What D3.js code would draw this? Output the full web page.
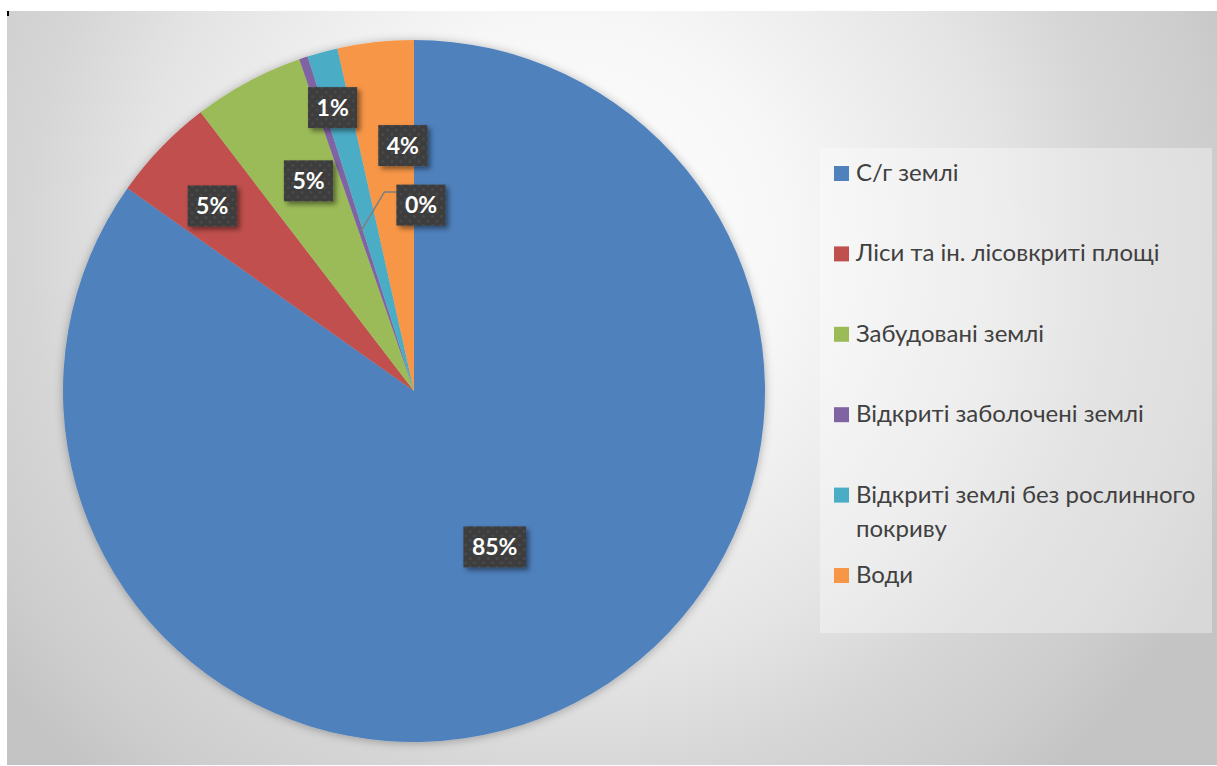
<!DOCTYPE html>
<html>
<head>
<meta charset="utf-8">
<script src="https://cdn.jsdelivr.net/npm/d3@7"></script>
<style>
  html, body { margin: 0; padding: 0; background: #ffffff; }
  svg { display: block; }
</style>
</head>
<body>
<svg id="chart" width="1217" height="766"></svg>
<script>
// Land-use structure (share of total area, %)
const categories = [
  "С/г землі",
  "Ліси та ін. лісовкриті площі",
  "Забудовані землі",
  "Відкриті заболочені землі",
  "Відкриті землі без рослинного покриву",
  "Води"
];
const shares = [84.8, 4.8, 5.1, 0.4, 1.4, 3.5];
const colors = ["#4f81bd", "#c0504d", "#9bbb59", "#8064a2", "#4bacc6", "#f79646"];
// legend lines (long names wrap onto a second line)
const legendLines = [
  ["С/г землі"],
  ["Ліси та ін. лісовкриті площі"],
  ["Забудовані землі"],
  ["Відкриті заболочені землі"],
  ["Відкриті землі без рослинного", "покриву"],
  ["Води"]
];
// data-label placement: distance from the centre (fraction of radius)
// and angular nudge away from the slice's mid-angle (degrees)
const labelRadius = [0.50, 0.78, 0.67, 0.53, 0.84, 0.70];
const labelNudge = [0, -1.4, 1.6, 0, -0.9, 3.7];
// the tiny slice gets a callout label with a leader line
const calloutIndex = 3;
const calloutAngle = 2.15;

const svg = d3.select("#chart");
const defs = svg.append("defs");

// chart-area background: soft radial gradient
const bg = defs.append("radialGradient")
  .attr("id", "bgGrad")
  .attr("gradientUnits", "userSpaceOnUse")
  .attr("cx", 570).attr("cy", 240).attr("r", 720);
[[0, "#ffffff"], [0.3, "#f7f7f7"], [0.6, "#e4e4e4"], [0.75, "#d6d6d6"], [0.9, "#cdcdcd"], [1, "#c4c4c4"]]
  .forEach(([o, c]) => bg.append("stop").attr("offset", o).attr("stop-color", c));

// soft shadow around the pie
const pieShadow = defs.append("filter").attr("id", "pieShadow")
  .attr("x", "-10%").attr("y", "-10%").attr("width", "120%").attr("height", "120%");
pieShadow.append("feDropShadow")
  .attr("dx", 0).attr("dy", 1).attr("stdDeviation", 5)
  .attr("flood-color", "#000").attr("flood-opacity", 0.3);

// shadow for data-label boxes
const boxShadow = defs.append("filter").attr("id", "boxShadow")
  .attr("x", "-30%").attr("y", "-30%").attr("width", "170%").attr("height", "170%");
boxShadow.append("feDropShadow")
  .attr("dx", 3).attr("dy", 3).attr("stdDeviation", 2.5)
  .attr("flood-color", "#000").attr("flood-opacity", 0.45);

// dotted texture of the label boxes
const dots = defs.append("pattern").attr("id", "dots")
  .attr("patternUnits", "userSpaceOnUse").attr("width", 9).attr("height", 9);
dots.append("rect").attr("width", 9).attr("height", 9).attr("fill", "#3d3d3d");
dots.append("circle").attr("cx", 2.5).attr("cy", 2.5).attr("r", 1.5).attr("fill", "#4a4a4a");
dots.append("circle").attr("cx", 7).attr("cy", 7).attr("r", 1.5).attr("fill", "#4a4a4a");

// chart area
svg.append("rect")
  .attr("x", 7).attr("y", 11).attr("width", 1210).attr("height", 754)
  .attr("fill", "url(#bgGrad)");
svg.append("rect")
  .attr("x", 7).attr("y", 11).attr("width", 2).attr("height", 5)
  .attr("fill", "#000");

// pie geometry
const cx = 414, cy = 391, R = 351;
const total = d3.sum(shares);
const data = categories.map((name, i) => ({ name, value: shares[i], color: colors[i], i }));

const pie = d3.pie().value(d => d.value).sort(null).startAngle(0).endAngle(2 * Math.PI);
const arcs = pie(data);
const arc = d3.arc().innerRadius(0).outerRadius(R);

const gPie = svg.append("g").attr("transform", `translate(${cx},${cy})`);
gPie.append("g").attr("filter", "url(#pieShadow)")
  .selectAll("path")
  .data(arcs)
  .join("path")
  .attr("d", arc)
  .attr("fill", d => d.data.color);

// data labels
const pct = d => Math.round(d.data.value / total * 100) + "%";
const polar = (angle, r) => [Math.sin(angle) * r, -Math.cos(angle) * r];
const rad = deg => deg * Math.PI / 180;

const labelFont = "bold 23px Lato, 'Open Sans', sans-serif";
const gLabels = gPie.append("g");

arcs.forEach(d => {
  const i = d.data.i;
  const mid = (d.startAngle + d.endAngle) / 2;
  const angle = i === calloutIndex ? rad(calloutAngle) : mid + rad(labelNudge[i]);
  const [lx, ly] = polar(angle, R * labelRadius[i]);
  const g = gLabels.append("g").attr("transform", `translate(${lx},${ly})`);
  const t = g.append("text")
    .attr("text-anchor", "middle")
    .attr("y", 8)
    .style("font", labelFont)
    .attr("fill", "#ffffff")
    .text(pct(d));
  const tw = t.node().getComputedTextLength();
  const bw = tw + 17, bh = 41;
  g.insert("rect", "text")
    .attr("x", -bw / 2).attr("y", -bh / 2)
    .attr("width", bw).attr("height", bh)
    .attr("fill", "url(#dots)")
    .attr("filter", "url(#boxShadow)");

  if (i === calloutIndex) {
    const [ex, ey] = polar(mid, R * 0.48);
    const bx = lx - bw / 2, by = ly - 13;
    gLabels.insert("path", ":first-child")
      .attr("d", d3.line()([[bx, by], [bx - 12, by], [ex, ey]]))
      .attr("fill", "none")
      .attr("stroke", "#7f7f7f")
      .attr("stroke-width", 1.5);
  }
});

// legend
const legend = svg.append("g");
legend.append("rect")
  .attr("x", 820).attr("y", 148).attr("width", 392).attr("height", 485)
  .attr("fill", "#ffffff").attr("fill-opacity", 0.35);

const rowStep = 80.4, firstBaseline = 181, lineStep = 34;
legendLines.forEach((lines, i) => {
  const base = firstBaseline + i * rowStep;
  legend.append("rect")
    .attr("x", 834).attr("y", base - 15)
    .attr("width", 15).attr("height", 15)
    .attr("fill", colors[i]);
  const t = legend.append("text")
    .attr("x", 856).attr("y", base)
    .style("font", "24px Lato, 'Open Sans', sans-serif")
    .attr("fill", "#404040");
  lines.forEach((ln, k) => {
    t.append("tspan").attr("x", 856).attr("y", base + k * lineStep).text(ln);
  });
});
</script>
</body>
</html>
